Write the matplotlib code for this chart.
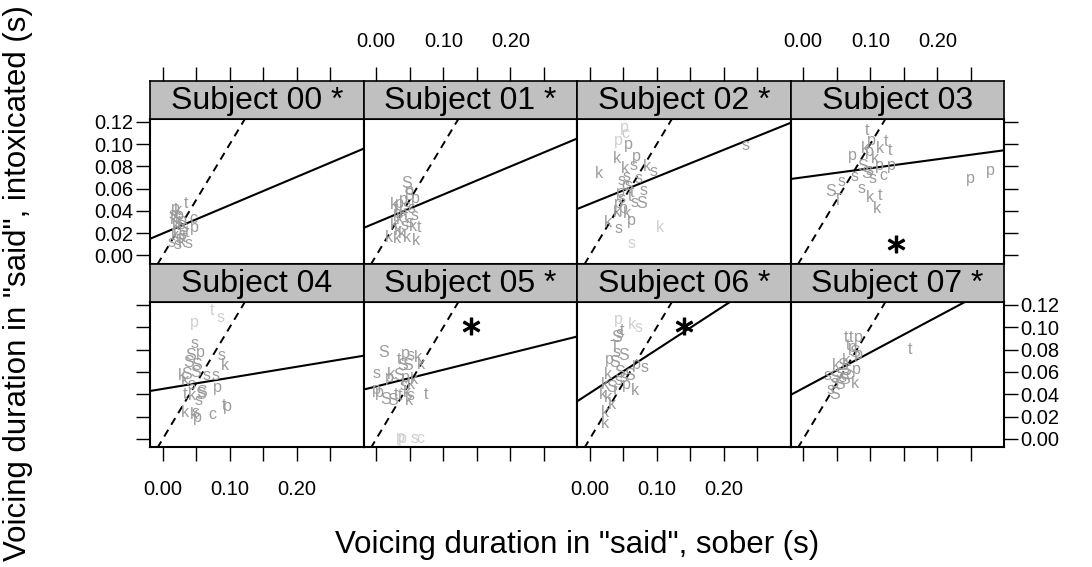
import matplotlib
matplotlib.use("Agg")
import matplotlib.pyplot as plt

plt.rcParams['font.family'] = ['Liberation Sans', 'DejaVu Sans']

# ---------------- data ----------------
titles = ["Subject 00 *", "Subject 01 *", "Subject 02 *", "Subject 03",
          "Subject 04", "Subject 05 *", "Subject 06 *", "Subject 07 *"]

# regression lines (intercept, slope)
intercepts = [0.0198, 0.0295, 0.0463, 0.0702, 0.0448, 0.0470, 0.0410, 0.0454]
slopes = [0.254, 0.252, 0.243, 0.081, 0.099, 0.149, 0.390, 0.320]

# asterisk markers (panel index, x, y)
star_panel = [3, 5, 6]
star_x = [0.138, 0.141, 0.140]
star_y = [0.0105, 0.101, 0.101]

# points: letters, sober x, intoxicated y, light flag (1 = light grey)
lab00 = list("tpkspskcptspkstpskstskss")
x00 = [0.035, 0.019, 0.022, 0.015, 0.025, 0.020, 0.017, 0.046, 0.030, 0.024, 0.028, 0.047,
       0.020, 0.033, 0.036, 0.022, 0.030, 0.018, 0.025, 0.032, 0.0135, 0.028, 0.038, 0.022]
y00 = [0.047, 0.042, 0.040, 0.037, 0.036, 0.034, 0.032, 0.033, 0.031, 0.030, 0.028, 0.025,
       0.027, 0.025, 0.021, 0.022, 0.019, 0.018, 0.015, 0.016, 0.012, 0.012, 0.0105, 0.010]
lt00 = [0] * 24

lab01 = list("SpSppkpstskpstksksktkkkkkk")
x01 = [0.046, 0.050, 0.048, 0.040, 0.058, 0.027, 0.035, 0.045, 0.030, 0.052, 0.040, 0.032,
       0.057, 0.045, 0.036, 0.050, 0.027, 0.042, 0.055, 0.064, 0.033, 0.019, 0.0315, 0.0465,
       0.059, 0.038]
y01 = [0.065, 0.058, 0.054, 0.050, 0.051, 0.046, 0.047, 0.044, 0.042, 0.042, 0.039, 0.038,
       0.036, 0.035, 0.032, 0.030, 0.028, 0.027, 0.026, 0.0255, 0.022, 0.0165, 0.015, 0.0165,
       0.0135, 0.020]
lt01 = [0] * 26

lab02 = list("pcppkpkkskssssSspkpkskssspcstskpt")
x02 = [0.0515, 0.0535, 0.0425, 0.0575, 0.040, 0.070, 0.0135, 0.0525, 0.065, 0.085, 0.095,
       0.2325, 0.0575, 0.080, 0.0775, 0.0675, 0.0425, 0.055, 0.0625, 0.0275, 0.0425, 0.105,
       0.0625, 0.0475, 0.055, 0.045, 0.0525, 0.0725, 0.0625, 0.0475, 0.040, 0.050, 0.060]
y02 = [0.1146, 0.1095, 0.1035, 0.0996, 0.087, 0.0885, 0.0735, 0.078, 0.081, 0.0795, 0.075,
       0.099, 0.063, 0.0585, 0.0465, 0.048, 0.0465, 0.0375, 0.0315, 0.030, 0.024, 0.0255,
       0.0105, 0.0675, 0.0705, 0.057, 0.063, 0.069, 0.057, 0.051, 0.039, 0.042, 0.053]
lt02 = [1, 1, 1, 0, 0, 0, 0, 0, 0, 0, 0, 0, 0, 0, 0, 0, 0, 0, 0, 0, 0, 1,
        1, 0, 0, 0, 0, 0, 0, 0, 0, 0, 0]

lab03 = ["t", "p", "t", "k", "t", "k", "p", "p", "p", "p", "s", "S", "T", "s", "k", "t", "k",
         "s", "S", "s", "c", "S", "k", "p", "s", "p"]
x03 = [0.0955, 0.1015, 0.124, 0.114, 0.129, 0.0915, 0.073, 0.099, 0.1315, 0.249, 0.0565,
       0.0415, 0.0515, 0.0865, 0.099, 0.115, 0.1105, 0.0765, 0.094, 0.104, 0.119, 0.089,
       0.1065, 0.114, 0.099, 0.279]
y03 = [0.1125, 0.1035, 0.102, 0.096, 0.0945, 0.096, 0.090, 0.093, 0.081, 0.069, 0.066,
       0.0576, 0.0495, 0.060, 0.0525, 0.054, 0.0426, 0.0705, 0.0735, 0.069, 0.072, 0.0795,
       0.087, 0.081, 0.0765, 0.0765]
lt03 = [0] * 26

lab04 = ["p", "t", "s", "s", "p", "S", "s", "k", "S", "S", "k", "S", "S", "s", "s", "p",
         "t", "k", "S", "S", "s", "t", "p", "k", "k", "p", "c", "s", "k", "s"]
x04 = [0.0475, 0.0735, 0.086, 0.0475, 0.056, 0.041, 0.0885, 0.0935, 0.0385, 0.051, 0.0285,
       0.036, 0.0485, 0.066, 0.0785, 0.081, 0.0335, 0.0435, 0.0585, 0.056, 0.0535, 0.091,
       0.096, 0.0335, 0.046, 0.051, 0.0735, 0.0485, 0.0335, 0.0435]
y04 = [0.104, 0.115, 0.1087, 0.085, 0.0774, 0.0744, 0.0744, 0.0655, 0.0685, 0.0655, 0.0565,
       0.058, 0.0595, 0.0565, 0.0565, 0.046, 0.040, 0.0387, 0.0417, 0.040, 0.034, 0.0297,
       0.0289, 0.0238, 0.0223, 0.0194, 0.0223, 0.0238, 0.052, 0.049]
lt04 = [1, 1, 1] + [0] * 27

lab05 = ["S", "p", "s", "k", "t", "S", "S", "k", "s", "k", "p", "S", "p", "k", "p", "p",
         "S", "S", "t", "t", "k", "s", "k", "t", "s", "k", "p", "p", "s", "c"]
x05 = [0.0115, 0.044, 0.0515, 0.0625, 0.034, 0.039, 0.0465, 0.0665, 0.0005, 0.0215, 0.019,
       0.034, 0.044, 0.0565, 0.0005, 0.004, 0.014, 0.024, 0.029, 0.036, 0.0465, 0.0515,
       0.049, 0.074, 0.0415, 0.0515, 0.0365, 0.039, 0.0565, 0.0655]
y05 = [0.0774, 0.0765, 0.0744, 0.073, 0.0714, 0.0655, 0.0655, 0.067, 0.0587, 0.058, 0.055,
       0.0565, 0.055, 0.0536, 0.0446, 0.0417, 0.0357, 0.0342, 0.040, 0.0387, 0.0417, 0.0387,
       0.0342, 0.040, 0.0476, 0.049, 0.0009, 0.000, 0.000, 0.000]
lt05 = [0] * 26 + [1, 1, 1, 1]

lab06 = ["p", "k", "s", "s", "t", "S", "T", "s", "S", "p", "S", "p", "s", "k", "S", "s",
         "S", "p", "k", "k", "S", "k", "k", "t", "k", "k", "k", "s"]
x06 = [0.0425, 0.0625, 0.0725, 0.045, 0.0475, 0.040, 0.0375, 0.040, 0.050, 0.030, 0.0375,
       0.070, 0.0825, 0.0275, 0.045, 0.050, 0.060, 0.055, 0.0675, 0.0225, 0.0325, 0.020,
       0.0275, 0.0375, 0.0325, 0.0225, 0.0225, 0.0425]
y06 = [0.107, 0.1027, 0.0997, 0.0944, 0.0967, 0.0908, 0.0819, 0.0774, 0.0744, 0.0714, 0.0685,
       0.067, 0.064, 0.058, 0.0595, 0.055, 0.0565, 0.049, 0.0431, 0.049, 0.046, 0.040, 0.037,
       0.0431, 0.031, 0.0238, 0.0134, 0.052]
lt06 = [1, 1, 1] + [0] * 25

lab07 = ["t", "t", "p", "t", "p", "S", "p", "t", "k", "S", "k", "p", "S", "s", "s", "S",
         "s", "k", "s", "S", "s", "S", "S", "c"]
x07 = [0.064, 0.0715, 0.0815, 0.0665, 0.074, 0.0765, 0.0815, 0.159, 0.064, 0.059, 0.049,
       0.079, 0.064, 0.054, 0.0365, 0.0465, 0.059, 0.0765, 0.0465, 0.054, 0.0415, 0.0465,
       0.0615, 0.069]
y07 = [0.0908, 0.0908, 0.0908, 0.0833, 0.0819, 0.0774, 0.0759, 0.0804, 0.070, 0.0655, 0.0655,
       0.0625, 0.061, 0.0595, 0.0565, 0.055, 0.055, 0.0497, 0.0506, 0.049, 0.0446, 0.040,
       0.0536, 0.058]
lt07 = [0] * 24

labs = [lab00, lab01, lab02, lab03, lab04, lab05, lab06, lab07]
xs = [x00, x01, x02, x03, x04, x05, x06, x07]
ys = [y00, y01, y02, y03, y04, y05, y06, y07]
lts = [lt00, lt01, lt02, lt03, lt04, lt05, lt06, lt07]

xticks = [0.00, 0.05, 0.10, 0.15, 0.20, 0.25]
xticklabels = ["0.00", "", "0.10", "", "0.20", ""]
yticks = [0.00, 0.02, 0.04, 0.06, 0.08, 0.10, 0.12]
yticklabels = ["0.00", "0.02", "0.04", "0.06", "0.08", "0.10", "0.12"]
XLIM = (-0.019, 0.2995)
YLIM = (-0.0072, 0.123)

# ---------------- layout ----------------
W, H = 1092, 567
fig = plt.figure(figsize=(W / 100, H / 100), dpi=100)

L0, PW = 150.0, 213.5
rows = [(80.5, 118.5, 263.5), (263.5, 301.5, 447.0)]  # strip top, panel top, panel bottom

DARK = '#9c9c9c'
LIGHT = '#cfcfcf'
TICKLEN = 10
TICKFS = 14.5


def frac(x, ytop, w, h):
    return [x / W, 1 - (ytop + h) / H, w / W, h / H]


for i in range(8):
    r, c = divmod(i, 4)
    stop, ptop, pbot = rows[r]
    left = L0 + c * PW
    ax = fig.add_axes(frac(left, ptop, PW, pbot - ptop))
    sx = fig.add_axes(frac(left, stop, PW, ptop - stop))

    # strip
    sx.set_facecolor('#c0c0c0')
    sx.set_xlim(XLIM)
    sx.set_ylim(0, 1)
    sx.set_yticks([])
    sx.text(0.5, 0.45, titles[i], transform=sx.transAxes, ha='center', va='center',
            fontsize=23)
    for sp in sx.spines.values():
        sp.set_linewidth(1.2)

    # panel
    ax.set_xlim(XLIM)
    ax.set_ylim(YLIM)
    for sp in ax.spines.values():
        sp.set_linewidth(1.5)

    ax.plot([-0.05, 0.3], [-0.05, 0.3], color='black', lw=1.4, ls=(0, (4, 3)))
    xa = [XLIM[0], XLIM[1]]
    ax.plot(xa, [intercepts[i] + slopes[i] * v for v in xa], color='black', lw=1.5)

    for lab, xv, yv, lt in zip(labs[i], xs[i], ys[i], lts[i]):
        ax.text(xv, yv, lab, color=LIGHT if lt else DARK, fontsize=11.5,
                ha='center', va='center', clip_on=True)

    for p, sxv, syv in zip(star_panel, star_x, star_y):
        if p == i:
            ax.plot([sxv], [syv], marker='$*$', color='black', markersize=12, ls='none')

    # x ticks
    if r == 0:
        ax.set_xticks([])
        sx.set_xticks(xticks)
        sx.tick_params(axis='x', bottom=False, labelbottom=False, top=True,
                       labeltop=(c % 2 == 1), direction='out', length=TICKLEN,
                       width=1.0, pad=11, labelsize=TICKFS)
        sx.set_xticklabels(xticklabels)
    else:
        sx.set_xticks([])
        ax.set_xticks(xticks)
        ax.set_xticklabels(xticklabels)
        ax.tick_params(axis='x', bottom=True, labelbottom=(c % 2 == 0), top=False,
                       direction='out', length=TICKLEN, width=1.0, pad=13.5,
                       labelsize=TICKFS)

    # y ticks
    ax.set_yticks(yticks)
    ax.set_yticklabels(yticklabels)
    ax.tick_params(axis='y', left=(c == 0), labelleft=(c == 0 and r == 0),
                   right=(c == 3), labelright=(c == 3 and r == 1),
                   direction='out', length=TICKLEN, width=1.0, pad=2,
                   labelsize=TICKFS)

fig.text(577 / W, 1 - 545 / H, 'Voicing duration in "said", sober (s)',
         ha='center', va='center', fontsize=22.5)
fig.text(18 / W, 1 - 283 / H, 'Voicing duration in "said", intoxicated (s)',
         ha='center', va='center', rotation=90, fontsize=22.5)

fig.savefig('out.png', dpi=100)
